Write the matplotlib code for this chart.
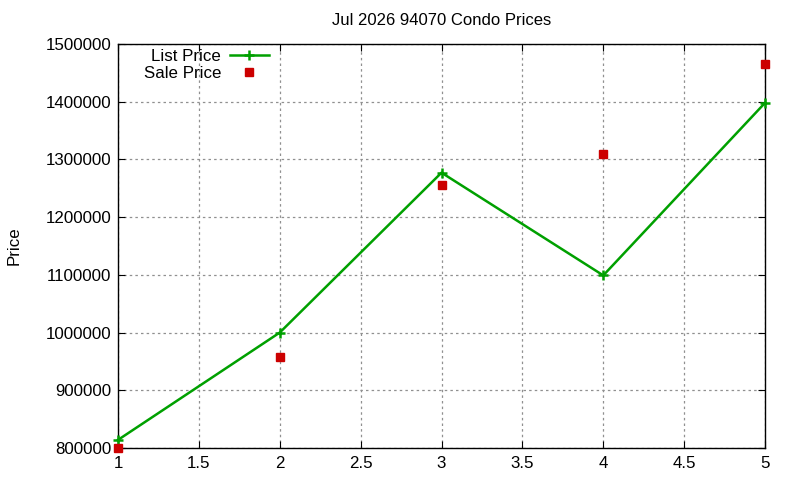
import matplotlib.pyplot as plt
from matplotlib.ticker import FuncFormatter

# Waarden
months = [1, 2, 3, 4, 5]
list_price = [814000, 1000000, 1277000, 1099000, 1398000]
sale_price = [800000, 958000, 1255000, 1309000, 1465000]

plt.rcParams['font.family'] = ['Liberation Sans', 'DejaVu Sans']

fig = plt.figure(figsize=(8, 4.8), dpi=100)
ax = fig.add_axes([0.1475, 0.0667, 0.8088, 0.8417])

ax.plot(months, list_price, color='#00a000', lw=1.8, marker='+', ms=7, mew=1.8,
        label='List Price', clip_on=False, zorder=3)
ax.plot(months, sale_price, color='#cc0000', lw=0, marker='s', ms=6,
        label='Sale Price', clip_on=False, zorder=4)

ax.set_xlim(1, 5)
ax.set_ylim(800000, 1500000)
ax.set_xticks([1, 1.5, 2, 2.5, 3, 3.5, 4, 4.5, 5])
ax.set_xticklabels(['1', '1.5', '2', '2.5', '3', '3.5', '4', '4.5', '5'])
ax.set_yticks(range(800000, 1500001, 100000))
ax.yaxis.set_major_formatter(FuncFormatter(lambda v, p: f'{int(v)}'))

ax.grid(True, color='#909090', linestyle=(0, (2, 2.5)), lw=0.9)
ax.tick_params(direction='in', top=True, right=True, length=5, labelsize=12.2)
ax.tick_params(axis='x', pad=6)
ax.tick_params(axis='y', pad=5)
for s in ax.spines.values():
    s.set_linewidth(1.0)

ax.set_ylabel('Price', fontsize=12.2, labelpad=17)
ax.set_title('Jul 2026 94070 Condo Prices', fontsize=12, pad=14)

ax.legend(loc='upper left', bbox_to_anchor=(0.024, 1.012), frameon=False, markerfirst=False,
          fontsize=12.2, handlelength=2.3, labelspacing=0.1, borderaxespad=0.2,
          handletextpad=0.5)

fig.savefig('out.png', dpi=100)
